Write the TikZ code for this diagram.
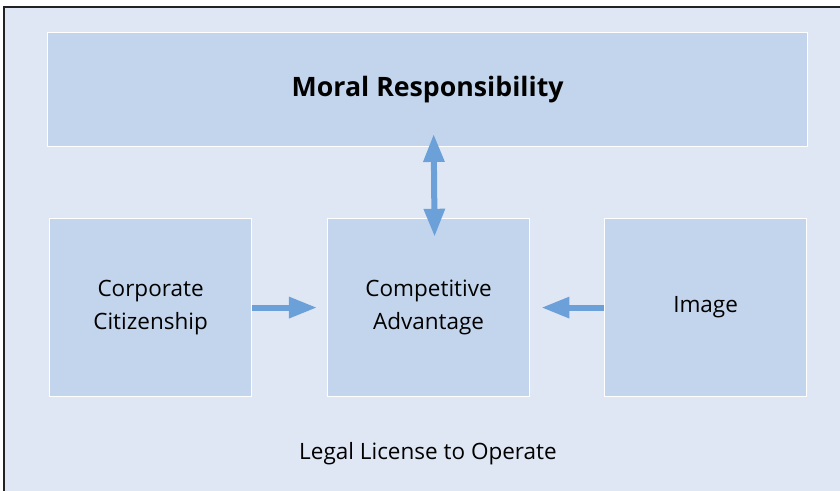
\documentclass[tikz,border=0pt]{standalone}
\usepackage{fontspec}
\setmainfont{Open Sans}
\usetikzlibrary{arrows.meta}
\definecolor{panel}{HTML}{DFE7F5}
\definecolor{boxfill}{HTML}{C3D5EC}
\definecolor{arrowblue}{HTML}{6CA0D8}
\definecolor{frame}{HTML}{222222}

\begin{document}
\begin{tikzpicture}[x=0.025cm, y=-0.025cm,
  block/.style={rectangle, draw=white, line width=0.8pt, fill=boxfill, anchor=north west, align=center, font=\fontsize{16}{23}\selectfont},
  link/.style={arrowblue, line width=0.15cm, -{Triangle[width=0.5cm, length=0.7cm]}},
  dlink/.style={link, {Triangle[width=0.5cm, length=0.7cm]}-{Triangle[width=0.5cm, length=0.7cm]}}
]
  \useasboundingbox (0,0) rectangle (840,491);
  % outer panel, cut off at the right and bottom
  \draw[frame, line width=1.5pt, fill=panel] (4,7) rectangle (850,500);

  \node[block, minimum width=19cm, minimum height=2.85cm, font=\fontsize{19}{23}\selectfont\bfseries] (moral) at (47,32) {Moral Responsibility};
  \node[block, minimum width=5.05cm, minimum height=4.45cm] (citizen) at (49,218) {Corporate\\Citizenship};
  \node[block, minimum width=5.05cm, minimum height=4.45cm] (advantage) at (327,218) {Competitive\\Advantage};
  \node[block, minimum width=5.05cm, minimum height=4.45cm] (image) at (604,218) {Image};

  \node[font=\fontsize{16}{23}\selectfont] (legal) at (428,454) {Legal License to Operate};

  \draw[dlink] ([xshift=0.15cm, yshift=0.33cm]moral.south) -- ([xshift=0.15cm, yshift=-0.47cm]advantage.north);
  \draw[link] (citizen.east) -- ([xshift=-0.25cm]advantage.west);
  \draw[link] (image.west) -- ([xshift=0.28cm]advantage.east);
\end{tikzpicture}
\end{document}
